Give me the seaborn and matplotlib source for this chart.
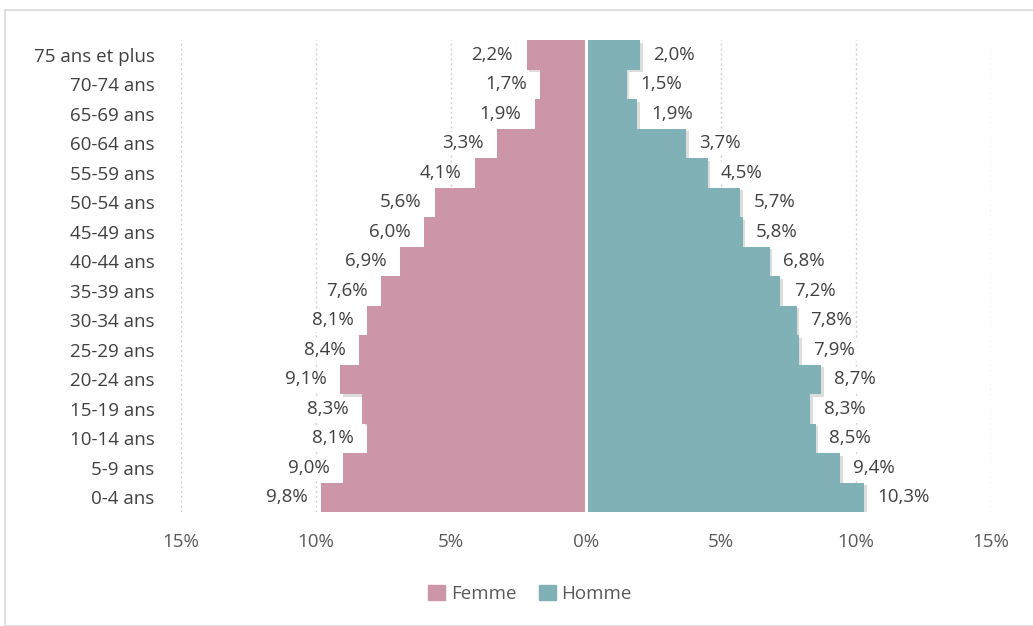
import matplotlib
matplotlib.use("Agg")
import matplotlib.pyplot as plt
import matplotlib.patheffects as pe
from matplotlib.patches import Rectangle, Patch
from matplotlib.ticker import FixedLocator, FuncFormatter
import seaborn as sns
import pandas as pd

# Age groups, top to bottom
ages = ["75 ans et plus", "70-74 ans", "65-69 ans", "60-64 ans", "55-59 ans",
        "50-54 ans", "45-49 ans", "40-44 ans", "35-39 ans", "30-34 ans",
        "25-29 ans", "20-24 ans", "15-19 ans", "10-14 ans", "5-9 ans", "0-4 ans"]
femme = [2.2, 1.7, 1.9, 3.3, 4.1, 5.6, 6.0, 6.9, 7.6, 8.1, 8.4, 9.1, 8.3, 8.1, 9.0, 9.8]
homme = [2.0, 1.5, 1.9, 3.7, 4.5, 5.7, 5.8, 6.8, 7.2, 7.8, 7.9, 8.7, 8.3, 8.5, 9.4, 10.3]
x_ticks = [-15, -10, -5, 0, 5, 10, 15]

pink = "#CC96A8"
teal = "#80B1B6"

df = pd.DataFrame({"age": ages, "femme": [-v for v in femme], "homme": homme})

sns.set_style("white")
plt.rcParams["font.family"] = ["Open Sans", "DejaVu Sans"]
fs = 13.5

fig = plt.figure(figsize=(10.33, 6.26), dpi=100)
ax = fig.add_axes([181 / 1033, 1 - 512 / 626, 810 / 1033, 472 / 626])

shadow = [pe.SimplePatchShadow(offset=(2, -2), shadow_rgbFace="#a0a0a0", alpha=0.35), pe.Normal()]
sns.barplot(data=df, y="age", x="femme", order=ages, color=pink, width=1.0,
            saturation=1, ax=ax, orient="h", zorder=2)
sns.barplot(data=df, y="age", x="homme", order=ages, color=teal, width=1.0,
            saturation=1, ax=ax, orient="h", zorder=2)
for p in ax.patches:
    p.set_path_effects(shadow)
    p.set_edgecolor("none")

ax.axvline(0, color="white", lw=2.2, zorder=3)

for i, (f, h) in enumerate(zip(femme, homme)):
    ax.text(-f - 0.5, i, f"{f:.1f}%".replace(".", ","), ha="right", va="center",
            fontsize=fs, color="#404040", zorder=4,
            bbox=dict(boxstyle="square,pad=0.12", fc="white", ec="none"))
    ax.text(h + 0.5, i, f"{h:.1f}%".replace(".", ","), ha="left", va="center",
            fontsize=fs, color="#404040", zorder=4,
            bbox=dict(boxstyle="square,pad=0.12", fc="white", ec="none"))

ax.set_xlim(-15, 15)
ax.set_ylim(15.5, -0.5)
ax.xaxis.set_major_locator(FixedLocator(x_ticks))
ax.xaxis.set_major_formatter(FuncFormatter(lambda v, _: f"{abs(v):.0f}%"))
for t in x_ticks:
    if t != 0:
        ax.axvline(t, color="#d0d0d0", lw=1, ls=(0, (1.5, 2)), zorder=0)
ax.set_xlabel("")
ax.set_ylabel("")
for s in ax.spines.values():
    s.set_visible(False)
ax.tick_params(axis="both", length=0, labelsize=fs, colors="#595959")
ax.tick_params(axis="x", pad=15)
ax.tick_params(axis="y", pad=19)
for lbl in ax.get_yticklabels():
    lbl.set_color("#404040")

handles = [Patch(color=pink, label="Femme"), Patch(color=teal, label="Homme")]
fig.legend(handles=handles, loc="center", bbox_to_anchor=(0.513, 1 - 594 / 626),
           ncol=2, frameon=False, fontsize=fs, handlelength=0.9, handleheight=0.9,
           handletextpad=0.3, columnspacing=1.2, labelcolor="#595959")

fig.add_artist(Rectangle((5 / 1033, 0), 1.0, 1 - 10 / 626, transform=fig.transFigure,
                         fill=False, ec="#d9d9d9", lw=1.2))

fig.savefig("out.png", dpi=100)
